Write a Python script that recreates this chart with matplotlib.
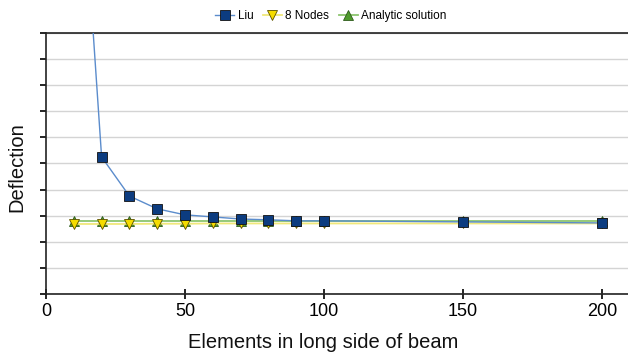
import numpy as np
import matplotlib.pyplot as plt

# data (deflection in grid units, no tick labels)
x_liu = [10, 20, 30, 40, 50, 60, 70, 80, 90, 100, 150, 200]
y_liu = [21.0, 5.25, 3.75, 3.26, 3.03, 2.95, 2.87, 2.84, 2.80, 2.80, 2.76, 2.72]

x_nodes = [10, 20, 30, 40, 50, 60, 70, 80, 90, 100, 150, 200]
y_nodes = [2.68, 2.68, 2.68, 2.69, 2.69, 2.70, 2.70, 2.70, 2.70, 2.70, 2.70, 2.70]

x_exact = [10, 20, 30, 40, 50, 60, 70, 80, 90, 100, 150, 200]
y_exact = [2.80, 2.80, 2.80, 2.80, 2.80, 2.80, 2.80, 2.80, 2.80, 2.80, 2.80, 2.80]

plt.rcParams['font.family'] = ['Liberation Sans', 'DejaVu Sans']

fig = plt.figure(figsize=(6.28, 3.58), dpi=100)
ax = fig.add_axes([0.0732, 0.179, 0.93, 0.729])

ax.plot(x_exact, y_exact, color='#8cc56e', lw=1.3, marker='^', ms=7.5,
        mfc='#4f9a2c', mec='#2d5a1a', mew=0.6, label='Analytic solution', zorder=3)
ax.plot(x_nodes, y_nodes, color='#f0e87a', lw=1.3, marker='v', ms=7.5,
        mfc='#f5dc00', mec='#5a5000', mew=0.6, label='8 Nodes', zorder=4)
ax.plot(x_liu, y_liu, color='#5b8ccc', lw=1.0, marker='s', ms=7.5,
        mfc='#0c3c80', mec='#111111', mew=0.6, label='Liu', zorder=5)

ax.set_xlim(0, 210)
ax.set_ylim(0, 10)
ax.set_xticks([0, 50, 100, 150, 200])
ax.set_yticks(np.arange(0, 11, 1))
ax.set_yticklabels([])
ax.grid(axis='y', color='#d4d4d4', lw=1.0)
ax.set_axisbelow(True)

ax.spines['right'].set_visible(False)
for s in ['top', 'left', 'bottom']:
    ax.spines[s].set_color('#222222')
    ax.spines[s].set_linewidth(1.2)
ax.tick_params(axis='y', direction='out', length=4, width=1.2)
ax.tick_params(axis='x', direction='inout', length=7, width=1.2, labelsize=13, pad=3)

# axis titles placed where the reference has them
fig.text(323 / 628, 1 - 343 / 358, 'Elements in long side of beam', fontsize=14.5,
         ha='center', va='center', color='#111111')
fig.text(17 / 628, 1 - 167 / 358, 'Deflection', fontsize=14.5, rotation=90,
         ha='center', va='center', color='#111111')

h, l = ax.get_legend_handles_labels()
order = [2, 1, 0]
fig.legend([h[i] for i in order], [l[i] for i in order], loc='center',
           bbox_to_anchor=(331 / 628, 0.955), ncol=3, frameon=False,
           handlelength=1.6, handletextpad=0.3, columnspacing=0.8,
           prop={'family': ['Liberation Sans Narrow', 'Liberation Sans'], 'size': 8.5})

fig.savefig('out.png', dpi=100)
